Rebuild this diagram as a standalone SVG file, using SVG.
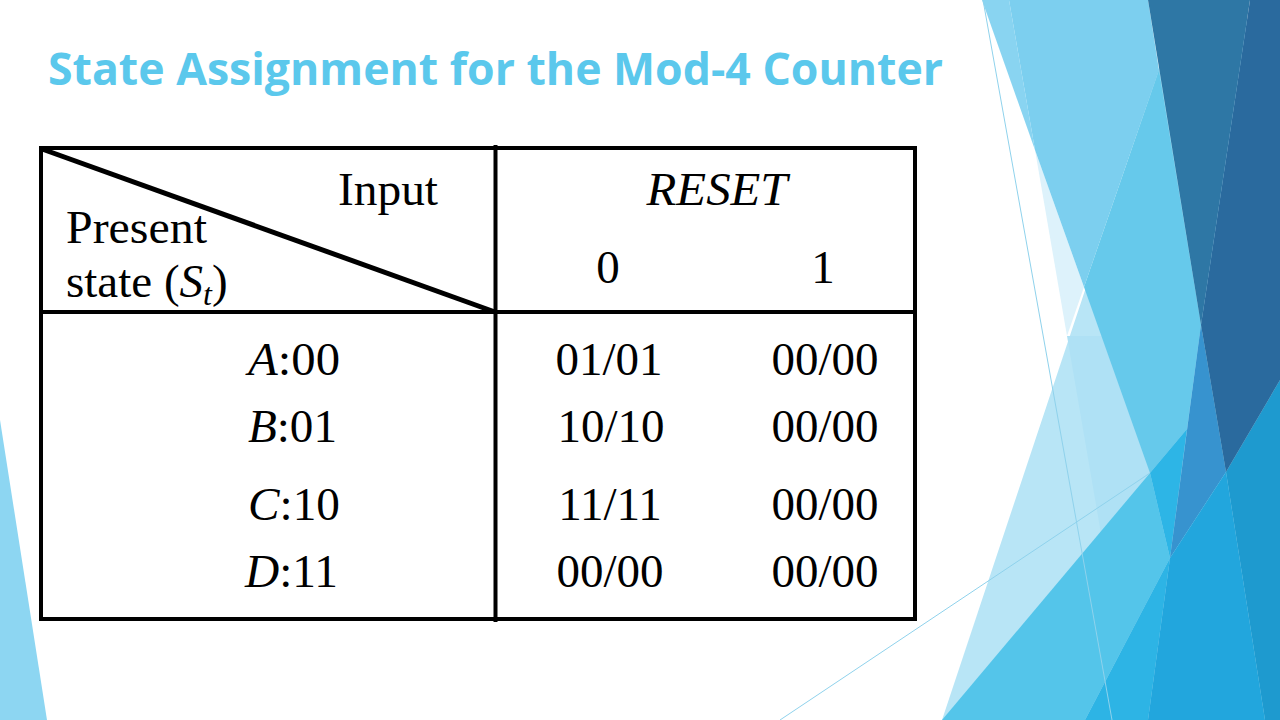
<svg xmlns="http://www.w3.org/2000/svg" width="1280" height="720" viewBox="0 0 1280 720">
  <style>
    .tx { font-family: "Liberation Serif", "Times New Roman", serif; font-size: 47px; fill: #000; }
    .hd { font-family: "Liberation Serif", "Times New Roman", serif; font-size: 47px; fill: #000; }
    .it { font-style: italic; }
    .grid { stroke: #000; stroke-width: 4; fill: none; }
    .thin { stroke: #8FD2EC; stroke-width: 1; fill: none; }
  </style>
  <rect width="1280" height="720" fill="#FFFFFF"/>

  <g id="background">
    <polygon points="0,420 0,720 47,720" fill="#8DD6F2"/>
    <polygon points="1175,20 942,720 1280,720 1280,20" fill="#B8E5F6"/>
    <polygon points="1067,336 1133,720 1280,720 1280,336" fill="#AFE1F5"/>
    <polygon points="1035,150 1084,287 1067,336" fill="#DDF2FB"/>
    <polygon points="982,0 1009,0 1035,150" fill="#89D4F1"/>
    <polygon points="1009,0 1148,0 1159,70 1084,287 1035,150" fill="#7CCFEF"/>
    <polygon points="1159,70 1201,325 1187,429 1150,473 1084,287" fill="#66C9EB"/>
    <polygon points="942,720 1150,473 1170,558 1085,720" fill="#54C5EA"/>
    <polygon points="1150,473 1187,429 1170,558" fill="#2DB5E6"/>
    <polygon points="1170,558 1148,720 1085,720" fill="#2DB4E5"/>
    <polygon points="1201,325 1226,472 1170,558" fill="#3793CF"/>
    <polygon points="1170,558 1226,472 1265,720 1148,720" fill="#22A6DD"/>
    <polygon points="1226,472 1280,380 1280,720 1265,720" fill="#1E9ACF"/>
    <polygon points="1148,0 1250,0 1201,325" fill="#2E77A5"/>
    <polygon points="1250,0 1280,0 1280,380 1226,472 1201,325" fill="#2A6A9E"/>
    <line class="thin" x1="983" y1="0" x2="1112" y2="720"/>
    <line class="thin" x1="780" y1="720" x2="1150" y2="473"/>
  </g>

  <g id="title">
    <text x="48" y="85" font-family="'Open Sans', 'Liberation Sans', sans-serif" font-size="44" font-weight="700" fill="#5BC8EC" textLength="895" lengthAdjust="spacingAndGlyphs">State Assignment for the Mod-4 Counter</text>
  </g>

  <g id="table-grid">
    <rect class="grid" x="41" y="148" width="874" height="471"/>
    <line class="grid" x1="495.5" y1="145" x2="495.5" y2="622"/>
    <line class="grid" x1="39" y1="312" x2="917" y2="312"/>
    <line x1="42" y1="149" x2="495" y2="312" stroke="#000" stroke-width="5"/>
  </g>

  <g id="header-corner">
    <text class="hd" x="338" y="205" textLength="100" lengthAdjust="spacingAndGlyphs">Input</text>
    <text class="hd" x="66" y="243" textLength="141" lengthAdjust="spacingAndGlyphs">Present</text>
    <text class="hd" x="66" y="297">state (<tspan class="it">S</tspan><tspan class="it" font-size="32" dy="8">t</tspan><tspan dy="-8">)</tspan></text>
  </g>

  <g id="header-input">
    <text class="hd it" x="717" y="205" text-anchor="middle" textLength="141" lengthAdjust="spacingAndGlyphs">RESET</text>
    <text class="hd" x="608" y="283" text-anchor="middle">0</text>
    <text class="hd" x="823" y="283" text-anchor="middle">1</text>
  </g>

  <g id="row-A">
    <text class="tx" x="248" y="375" textLength="92" lengthAdjust="spacingAndGlyphs"><tspan class="it">A</tspan>:00</text>
    <text class="tx" x="609" y="375" text-anchor="middle">01/01</text>
    <text class="tx" x="825" y="375" text-anchor="middle">00/00</text>
  </g>
  <g id="row-B">
    <text class="tx" x="248" y="442" textLength="89" lengthAdjust="spacingAndGlyphs"><tspan class="it">B</tspan>:01</text>
    <text class="tx" x="611" y="442" text-anchor="middle">10/10</text>
    <text class="tx" x="825" y="442" text-anchor="middle">00/00</text>
  </g>
  <g id="row-C">
    <text class="tx" x="248" y="520" textLength="92" lengthAdjust="spacingAndGlyphs"><tspan class="it">C</tspan>:10</text>
    <text class="tx" x="610" y="520" text-anchor="middle">11/11</text>
    <text class="tx" x="825" y="520" text-anchor="middle">00/00</text>
  </g>
  <g id="row-D">
    <text class="tx" x="245" y="587" textLength="93" lengthAdjust="spacingAndGlyphs"><tspan class="it">D</tspan>:11</text>
    <text class="tx" x="610" y="587" text-anchor="middle">00/00</text>
    <text class="tx" x="825" y="587" text-anchor="middle">00/00</text>
  </g>
</svg>
